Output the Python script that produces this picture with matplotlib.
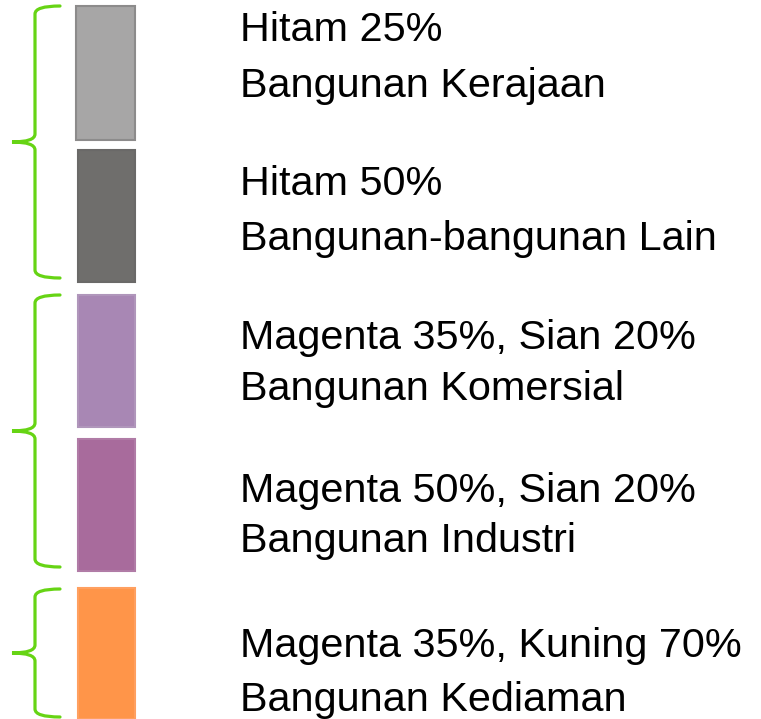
import matplotlib.pyplot as plt
from matplotlib.patches import Rectangle, PathPatch
from matplotlib.path import Path

# kategori legenda
warna_nama = ['Hitam 25%', 'Hitam 50%', 'Magenta 35%, Sian 20%',
              'Magenta 50%, Sian 20%', 'Magenta 35%, Kuning 70%']
bangunan = ['Bangunan Kerajaan', 'Bangunan-bangunan Lain', 'Bangunan Komersial',
            'Bangunan Industri', 'Bangunan Kediaman']
warna = ['#a7a6a6', '#6f6e6c', '#a887b4', '#a86b9c', '#ff9549']
tepi = ['#8c8b8b', '#6a6968', '#b096bb', '#b07ba6', '#ffa060']

W, H = 761, 719
fig = plt.figure(figsize=(W / 100, H / 100), dpi=100)
ax = fig.add_axes([0, 0, 1, 1])
ax.set_xlim(0, W)
ax.set_ylim(H, 0)
ax.axis('off')

# kotak warna (piksel)
kotak = [(76, 6, 140), (78, 150, 282), (78, 295, 427), (78, 439, 571), (78, 588, 719)]
for (x0, y0, y1), c, e in zip(kotak, warna, tepi):
    ax.add_patch(Rectangle((x0, y0), 135 - x0, y1 - y0, facecolor=c,
                           edgecolor=e, lw=1.5))

# teks
garis_dasar = [(41, 97), (195, 250), (349, 400), (502, 552), (657, 711)]
for (b1, b2), t1, t2 in zip(garis_dasar, warna_nama, bangunan):
    ax.text(240, b1, t1, fontsize=29.8, family='Liberation Sans', va='baseline')
    ax.text(240, b2, t2, fontsize=29.8, family='Liberation Sans', va='baseline')


# kurungan kerinting
def kurung(atas, bawah, xv=35, xt=12, xe=60, r=8):
    tengah = (atas + bawah) / 2
    v = [(xe, atas), (xv, atas), (xv, atas + r),
         (xv, tengah - r), (xv, tengah), (xt, tengah),
         (xv, tengah), (xv, tengah + r),
         (xv, bawah - r), (xv, bawah), (xe, bawah)]
    k = [Path.MOVETO, Path.CURVE3, Path.CURVE3,
         Path.LINETO, Path.CURVE3, Path.CURVE3,
         Path.CURVE3, Path.CURVE3,
         Path.LINETO, Path.CURVE3, Path.CURVE3]
    ax.add_patch(PathPatch(Path(v, k), facecolor='none', edgecolor='#66d414',
                           lw=2.3, capstyle='round'))


kurung(6, 278)
kurung(295, 567)
kurung(589, 717)

fig.savefig('out.png', dpi=100)
